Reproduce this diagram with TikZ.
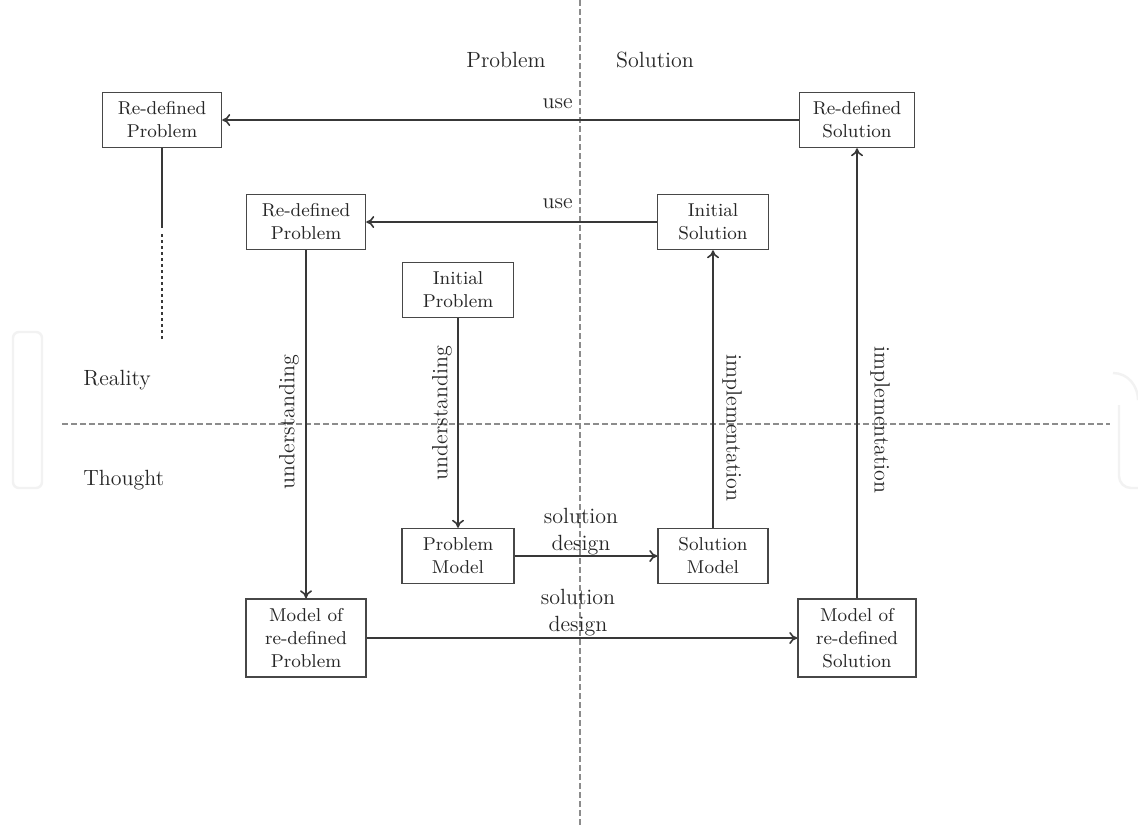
\documentclass[tikz,border=0pt]{standalone}
\usetikzlibrary{arrows.meta}
\begin{document}
\begin{tikzpicture}[x=0.5pt,y=-0.5pt,
  box/.style={draw=black!72,line width=0.75pt,fill=white,inner sep=0pt,align=center,
    text=black!85,font=\fontsize{9.3}{11.5}\selectfont,minimum height=27.5pt},
  lbl/.style={text=black!85,font=\fontsize{11}{13.5}\selectfont,inner sep=0pt,align=center},
  flow/.style={draw=black!78,line width=0.8pt,-{To[length=4pt,width=6pt]}},
  axis/.style={draw=black!45,line width=0.6pt,dash pattern=on 3pt off 1.5pt},
  logostroke/.style={draw=black!5,line width=1.2pt}]
\useasboundingbox[fill=white] (0,0) rectangle (1138,827);

% faint logo strokes at the edges
\draw[logostroke,rounded corners=3pt] (13,332) rectangle (42,488);
\draw[logostroke] (1113,373) .. controls (1128,373) and (1138,386) .. (1138,400);
\draw[logostroke,rounded corners=6pt] (1119,405) -- (1119,488) -- (1138,488);

% quadrant axes
\draw[axis] (580,0) -- (580,827);
\draw[axis] (62,424) -- (1110,424);

% quadrant titles
\node[lbl] (tp) at (506,60) {Problem};
\node[lbl] (ts) at (655,60) {Solution};
\node[lbl,anchor=west] (tr) at (83,380) {Reality};
\node[lbl,anchor=west] (tt) at (83,480) {Thought};

% boxes
\node[box,minimum width=59.5pt] (rp1) at (162,120) {Re-defined\\Problem};
\node[box,minimum width=57.5pt] (rs1) at (857,120) {Re-defined\\Solution};
\node[box,minimum width=59.5pt] (rp2) at (306,222) {Re-defined\\Problem};
\node[box,minimum width=55.5pt] (is) at (713,222) {Initial\\Solution};
\node[box,minimum width=55.5pt] (ip) at (458,290) {Initial\\Problem};
\node[box,minimum width=56pt] (pm) at (458,556) {Problem\\Model};
\node[box,minimum width=55pt] (sm) at (713,556) {Solution\\Model};
\node[box,minimum width=60pt,minimum height=39pt] (mrp) at (306,638) {Model of\\re-defined\\Problem};
\node[box,minimum width=59pt,minimum height=39pt] (mrs) at (857,638) {Model of\\re-defined\\Solution};

% open end below the outer problem box
\coordinate (tail1) at (rp1.south |- 0,228);
\coordinate (tail2) at (rp1.south |- 0,234);
\coordinate (tail3) at (rp1.south |- 0,340);
\draw[draw=black!78,line width=0.8pt] (rp1.south) -- (tail1);
\draw[draw=black!78,line width=0.8pt,dash pattern=on 1.5pt off 1.5pt] (tail2) -- (tail3);

% connectors
\draw[flow] (rs1.west) -- (rp1.east);
\draw[flow] (is.west) -- (rp2.east);
\draw[flow] (rp2.south) -- (mrp.north);
\draw[flow] (ip.south) -- (pm.north);
\draw[flow] (pm.east) -- (sm.west);
\draw[flow] (sm.north) -- (is.south);
\draw[flow] (mrp.east) -- (mrs.west);
\draw[flow] (mrs.north) -- (rs1.south);

% connector labels
\node[lbl,anchor=east] (u1) at (573,104) {use};
\node[lbl,anchor=east] (u2) at (573,204) {use};
\node[lbl] (sd1) at (581,532) {solution\\design};
\node[lbl] (sd2) at (578,613) {solution\\design};
\node[lbl,rotate=90] (un1) at (289,422) {understanding};
\node[lbl,rotate=90] (un2) at (442,413) {understanding};
\node[lbl,rotate=-90] (im1) at (732,428) {implementation};
\node[lbl,rotate=-90] (im2) at (880,420) {implementation};
\end{tikzpicture}
\end{document}
